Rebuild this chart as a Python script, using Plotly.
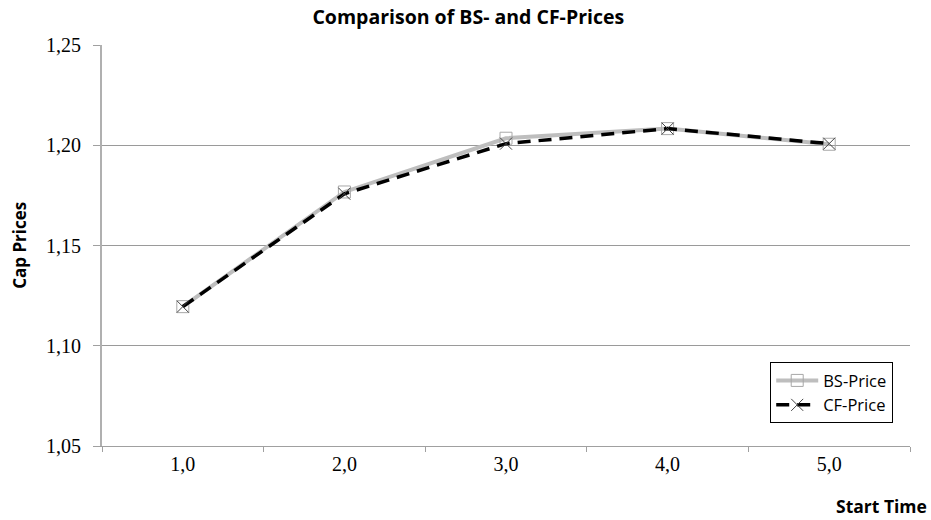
import plotly.graph_objects as go

start_time = ["1,0", "2,0", "3,0", "4,0", "5,0"]
bs_price = [1.1195, 1.1767, 1.2035, 1.2083, 1.2005]
cf_price = [1.1195, 1.1758, 1.2008, 1.2083, 1.2008]
y_ticks = [1.05, 1.10, 1.15, 1.20, 1.25]
y_tick_labels = ["1,05", "1,10", "1,15", "1,20", "1,25"]

fig = go.Figure()
fig.add_trace(go.Scatter(
    x=start_time, y=bs_price, name="BS-Price", mode="lines+markers",
    line=dict(color="#BEBEBE", width=4),
    marker=dict(symbol="square-open", size=12, color="#A8A8A8", line=dict(width=1)),
))
fig.add_trace(go.Scatter(
    x=start_time, y=cf_price, name="CF-Price", mode="lines+markers",
    line=dict(color="black", width=3.5, dash="13px,8px"),
    marker=dict(symbol="x-thin-open", size=12, color="#444444", line=dict(width=1, color="#444444")),
))

fig.update_layout(
    width=931, height=520,
    margin=dict(l=102, r=21, t=45, b=74),
    paper_bgcolor="white", plot_bgcolor="white",
    title=dict(text="<b>Comparison of BS- and CF-Prices</b>", x=0.503, xanchor="center",
               y=0.967, yanchor="middle",
               font=dict(family="Open Sans", size=19.5, color="black")),
    showlegend=True,
    legend=dict(x=0.827, y=0.209, xanchor="left", yanchor="top",
                bordercolor="black", borderwidth=1, bgcolor="white",
                font=dict(family="Open Sans", size=16.5, color="black"),
                tracegroupgap=0, itemwidth=42),
    font=dict(family="Liberation Serif", color="black"),
)
fig.update_xaxes(
    type="category", range=[-0.5, 4.5], tickson="boundaries",
    showline=True, linecolor="#A0A0A0", linewidth=1,
    ticks="outside", ticklen=5, tickcolor="#A0A0A0",
    showgrid=False, zeroline=False,
    tickfont=dict(family="Liberation Serif", size=20, color="black"),
)
fig.update_yaxes(
    range=[1.05, 1.25], tickvals=y_ticks, ticktext=y_tick_labels,
    showline=True, linecolor="#B0B0B0", linewidth=2,
    ticks="outside", ticklen=7, tickcolor="#A0A0A0",
    ticklabelstandoff=8,
    showgrid=True, gridcolor="#9A9A9A", gridwidth=1, zeroline=False,
    tickfont=dict(family="Liberation Serif", size=20, color="black"),
)
fig.add_annotation(text="<b>Cap Prices</b>", xref="paper", yref="paper",
                   x=-0.119, y=0.5, textangle=-90, showarrow=False,
                   font=dict(family="Open Sans", size=17, color="black"))
fig.add_annotation(text="<b>Start Time</b>", xref="paper", yref="paper",
                   x=1.0235, y=-0.1496, xanchor="right", yanchor="middle", showarrow=False,
                   font=dict(family="Open Sans", size=17.5, color="black"))

fig.write_html("out.html", config={"displayModeBar": False},
               post_script="document.body.style.margin='0px';document.body.style.overflow='hidden';")
